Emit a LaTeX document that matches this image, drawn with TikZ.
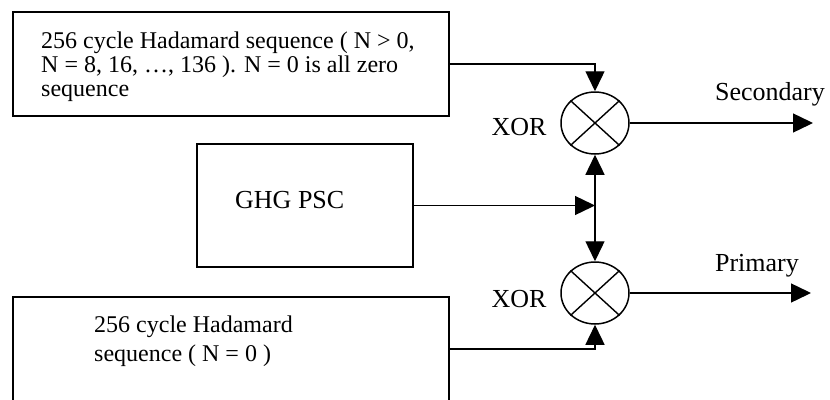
\documentclass[tikz,border=0pt]{standalone}
\usepackage{fontspec}
\setmainfont{Liberation Serif}
\usetikzlibrary{arrows.meta,shapes.geometric}
\tikzset{
  blk/.style={draw, line width=1.5pt, rectangle, inner sep=0pt},
  xorc/.style={draw, line width=1.5pt, ellipse, minimum width=68pt, minimum height=62pt, inner sep=0pt},
  wire/.style={line width=1.4pt},
  arr/.style={wire, -{Triangle[length=20pt,width=19pt]}},
  darr/.style={wire, {Triangle[length=20pt,width=19pt]}-{Triangle[length=20pt,width=19pt]}},
  boxtxt/.style={inner sep=0pt, align=left, font=\fontsize{24}{24}\selectfont},
  lbl/.style={inner sep=0pt, font=\fontsize{26}{26}\selectfont}
}
\begin{document}
\begin{tikzpicture}[x=1pt,y=-1pt]
\clip (0,0) rectangle (830,399);
\fill[white] (0,0) rectangle (830,399);
% boxes
\node[blk, minimum width=436pt, minimum height=104pt] (b1) at (231,64) {};
\node[blk, minimum width=216pt, minimum height=123pt] (ghg) at (305,205.5) {};
\node[blk, minimum width=436pt, minimum height=104pt] (b2) at (231,349) {};
% box texts
\node[boxtxt, anchor=base west] (t1a) at (41,48) {256 cycle Hadamard sequence ( N > 0,};
\node[boxtxt, anchor=base west] (t1b) at (41,72) {N = 8, 16, …, 136 ). N = 0 is all zero};
\node[boxtxt, anchor=base west] (t1c) at (41,96) {sequence};
\node[lbl, anchor=base west] (tg) at (235,208) {GHG PSC};
\node[boxtxt, anchor=base west] (t2a) at (94,332) {256 cycle Hadamard};
\node[boxtxt, anchor=base west] (t2b) at (94,361) {sequence ( N = 0 )};
% XOR gates
\node[xorc] (x1) at (595,123) {};
\node[xorc] (x2) at (595,293) {};
\draw[line width=1.4pt] (x1.north east) -- (x1.south west) (x1.north west) -- (x1.south east);
\draw[line width=1.4pt] (x2.north east) -- (x2.south west) (x2.north west) -- (x2.south east);
\node[lbl, anchor=base] (xl1) at (519,135) {XOR};
\node[lbl, anchor=base] (xl2) at (519,307) {XOR};
% outputs
\coordinate (o1) at (813,123);
\coordinate (o2) at (811,293);
\node[lbl, anchor=base] (ls) at (770,100) {Secondary};
\node[lbl, anchor=base] (lp) at (757,271) {Primary};
% connectors
\draw[arr] (b1.east) -| (x1.north);
\coordinate (j) at (ghg.east -| x1.center);
\draw[arr] (ghg.east) -- (j);
\draw[darr] (x1.south) -- (x2.north);
\draw[arr] (b2.east) -| (x2.south);
\draw[arr] (x1.east) -- (o1);
\draw[arr] (x2.east) -- (o2);
\end{tikzpicture}
\end{document}
